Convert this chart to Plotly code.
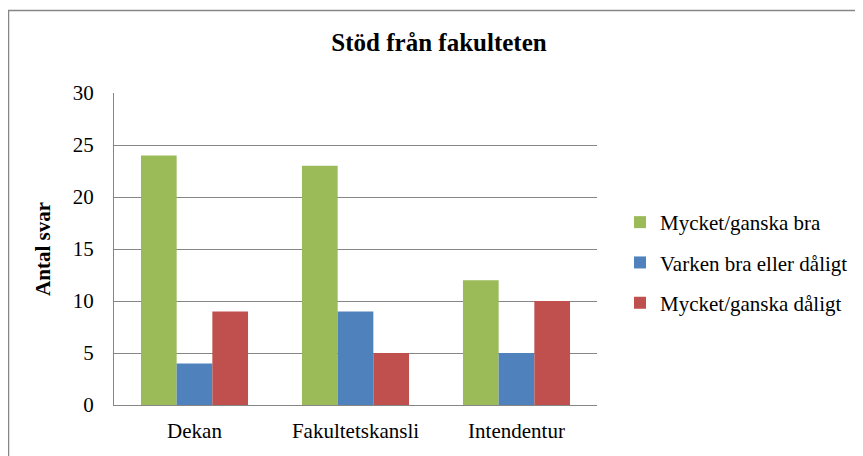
import plotly.graph_objects as go

categories = ["Dekan", "Fakultetskansli", "Intendentur"]
series_names = ["Mycket/ganska bra", "Varken bra eller dåligt", "Mycket/ganska dåligt"]
good = [24, 23, 12]
neutral = [4, 9, 5]
bad = [9, 5, 10]
colors = ["#9BBB59", "#4F81BD", "#C0504D"]

W, H = 863, 456
OFF = 8  # page body margin
# plot area in figure coordinates
L, R, T, B = 114 - OFF, 597 - OFF, 93 - OFF, 405 - OFF
pw, ph = R - L, B - T

font_family = "Liberation Serif"

fig = go.Figure()
for i, (name, vals) in enumerate(zip(series_names, [good, neutral, bad])):
    fig.add_trace(go.Bar(
        x=categories, y=vals, name=name,
        marker=dict(color=colors[i], line=dict(width=0)),
        legendgroup=f"g{i}",
    ))

def px_to_paper_x(px):
    return (px - L) / pw

def px_to_paper_y(py):
    return (B - py) / ph

fig.update_layout(
    width=W, height=H,
    margin=dict(l=L, r=W - R, t=T, b=H - B, pad=0, autoexpand=False),
    paper_bgcolor="white", plot_bgcolor="white",
    font=dict(family=font_family, size=21, color="black"),
    barmode="group", bargap=0.335, bargroupgap=0,
    showlegend=True,
    legend=dict(
        x=px_to_paper_x(612), y=px_to_paper_y(194), xanchor="left", yanchor="top",
        xref="paper", yref="paper",
        font=dict(family=font_family, size=21, color="black"),
        tracegroupgap=10, itemwidth=30, bgcolor="rgba(0,0,0,0)",
    ),
    title=dict(
        text="<b>Stöd från fakulteten</b>",
        x=431 / W, xanchor="center", y=1 - 34 / H, yanchor="middle",
        font=dict(family=font_family, size=25, color="black"),
    ),
    xaxis=dict(
        showline=True, linecolor="#868686", linewidth=1,
        showgrid=False, ticks="", tickfont=dict(size=21),
        ticklabelstandoff=7, automargin=False,
    ),
    yaxis=dict(
        range=[0, 30], dtick=5, tick0=0,
        showline=True, linecolor="#868686", linewidth=1,
        showgrid=True, gridcolor="#868686", gridwidth=1,
        zeroline=False, ticks="", tickfont=dict(size=21),
        ticklabelstandoff=15, automargin=False,
        title=dict(text="<b>Antal svar</b>", font=dict(size=21), standoff=16),
    ),
)

# outer chart frame
fig.add_shape(
    type="rect", xref="paper", yref="paper",
    x0=px_to_paper_x(0.5), x1=px_to_paper_x(W + 20),
    y0=px_to_paper_y(H + 20), y1=px_to_paper_y(2.5),
    line=dict(color="#868686", width=1.5), fillcolor="rgba(0,0,0,0)", layer="below",
)

fig.write_html("out.html")
